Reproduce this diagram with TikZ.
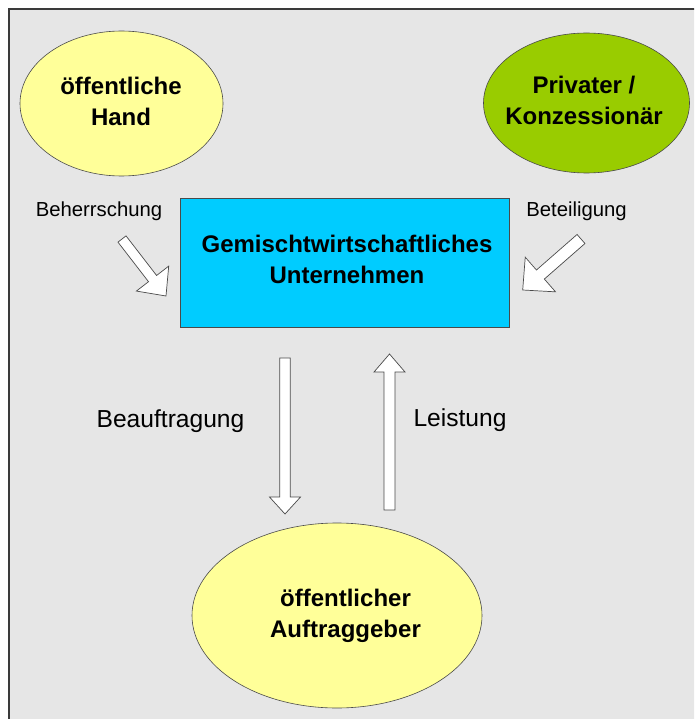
\documentclass[tikz,border=0pt]{standalone}
\usepackage{fontspec}
\setmainfont{Liberation Sans}
\usetikzlibrary{calc,shapes.geometric}

\definecolor{panelgray}{HTML}{E6E6E6}
\definecolor{framegray}{HTML}{3A3A3A}
\definecolor{paleyellow}{HTML}{FFFF99}
\definecolor{limegreen}{HTML}{99CC00}
\definecolor{skyblue}{HTML}{00CCFF}
\definecolor{edgegray}{HTML}{4A4A4A}

% Hollow block arrow from #1 (tail) to #2 (tip):
% #3 shaft half-width, #4 head half-width, #5 head length
\newcommand\blockarrow[5]{%
  \coordinate (ba-base) at ($(#2)!#5!(#1)$);
  \draw[arrowbody]
    ($(#1)!#3!90:(#2)$) -- ($(ba-base)!#3!90:(#2)$) -- ($(ba-base)!#4!90:(#2)$)
    -- (#2) -- ($(ba-base)!#4!-90:(#2)$) -- ($(ba-base)!#3!-90:(#2)$)
    -- ($(#1)!#3!-90:(#2)$) -- cycle;
}

\begin{document}
\begin{tikzpicture}[x=1pt,y=-1pt,
  blob/.style={ellipse,draw=edgegray,line width=0.6pt,inner sep=0pt},
  boxtext/.style={font=\bfseries\fontsize{24}{31}\selectfont,align=center,inner sep=0pt},
  smalllabel/.style={font=\fontsize{20.3}{24}\selectfont,inner sep=0pt,anchor=base},
  biglabel/.style={font=\fontsize{24.6}{29}\selectfont,inner sep=0pt,anchor=base},
  arrowbody/.style={draw=edgegray,fill=white,line width=0.7pt,line join=miter}]

  \useasboundingbox (0,0) rectangle (694,719);
  \clip (0,0) rectangle (694,719);
  \fill[white] (0,0) rectangle (694,719);

  % panel
  \draw[framegray,line width=1.5pt,fill=panelgray] (9,9) rectangle (730,760);

  % parties
  \node[blob,fill=paleyellow,minimum width=203pt,minimum height=145pt] (hand) at (121.5,103.5) {};
  \node[boxtext] (handtext) at (121,101.8) {öffentliche\\Hand};

  \node[blob,fill=limegreen,minimum width=206pt,minimum height=140pt] (privat) at (586.5,103) {};
  \node[boxtext] (privattext) at (584,100.5) {Privater /\\Konzessionär};

  \node[draw=edgegray,line width=0.8pt,fill=skyblue,minimum width=329pt,minimum height=129pt,inner sep=0pt] (unternehmen) at (344.5,262.5) {};
  \node[boxtext] (unternehmentext) at (347,259.8) {Gemischtwirtschaftliches\\Unternehmen};

  \node[blob,fill=paleyellow,minimum width=290pt,minimum height=185pt] (auftraggeber) at (337,615.5) {};
  \node[boxtext] (auftraggebertext) at (345.5,616.2) {öffentlicher\\Auftraggeber};

  % relation labels
  \node[smalllabel] (beherrschung) at (99,216) {Beherrschung};
  \node[smalllabel] (beteiligung) at (576.5,216) {Beteiligung};
  \node[biglabel] (beauftragung) at (170.5,427) {Beauftragung};
  \node[biglabel] (leistung) at (460,426) {Leistung};

  % block arrows
  \coordinate (hand-tail) at (122,239);
  \coordinate (hand-tip) at (166,296);
  \coordinate (privat-tail) at (581,239);
  \coordinate (privat-tip) at (522.7,290);
  \coordinate (auftrag-tail) at (285,358);
  \coordinate (auftrag-tip) at (285,514);
  \coordinate (leistung-tail) at (389.5,510);
  \coordinate (leistung-tip) at (389.5,354);

  \blockarrow{hand-tail}{hand-tip}{5.1pt}{20.4pt}{22pt}
  \blockarrow{privat-tail}{privat-tip}{6pt}{23pt}{23.5pt}
  \blockarrow{auftrag-tail}{auftrag-tip}{5.3pt}{15.5pt}{17pt}
  \blockarrow{leistung-tail}{leistung-tip}{5.5pt}{15.5pt}{18pt}
\end{tikzpicture}
\end{document}
